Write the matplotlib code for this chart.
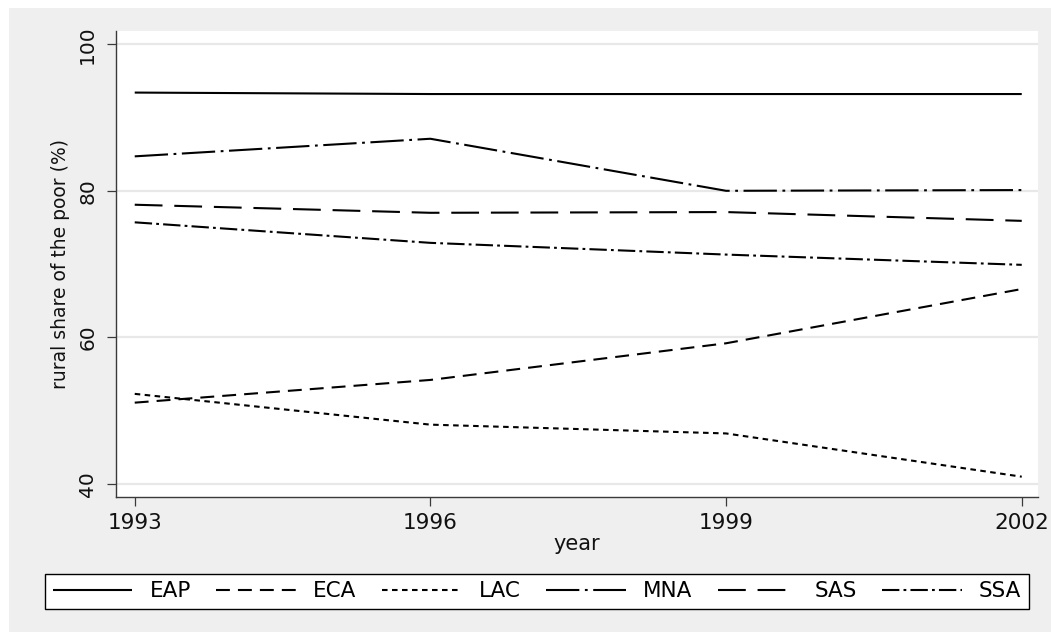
import matplotlib
matplotlib.use("Agg")
import matplotlib.pyplot as plt
from matplotlib.patches import Rectangle

# Rural share of the poor (%) by region
years = [1993, 1996, 1999, 2002]
regions = ["EAP", "ECA", "LAC", "MNA", "SAS", "SSA"]
eap = [93.4, 93.2, 93.2, 93.2]
eca = [51.1, 54.2, 59.2, 66.6]
lac = [52.3, 48.1, 46.9, 41.0]
mna = [84.7, 87.1, 80.0, 80.1]
sas = [78.1, 77.0, 77.1, 75.9]
ssa = [75.7, 72.9, 71.3, 69.9]
y_ticks = [40, 60, 80, 100]

plt.rcParams["font.family"] = "DejaVu Sans"
plt.rcParams["lines.scale_dashes"] = False

W, H = 1051, 632
fig = plt.figure(figsize=(W / 100, H / 100), dpi=100, facecolor="white")

# light gray graph region behind everything
fig.patches.append(Rectangle((9 / W, 0), (W - 9) / W, (H - 8) / H,
                             transform=fig.transFigure, facecolor="#efefef",
                             edgecolor="none", zorder=-10))

ax = fig.add_axes([116 / W, (H - 497) / H, (1038 - 116) / W, (497 - 31) / H])
ax.set_zorder(1)
ax.set_facecolor("white")

styles = {
    "EAP": "-",
    "ECA": (0, (10.0, 5.8)),
    "LAC": (0, (4.0, 3.2)),
    "MNA": (0, (24.0, 4.0, 2.0, 4.0)),
    "SAS": (0, (20.0, 8.5)),
    "SSA": (0, (12.5, 3.0, 2.0, 3.0)),
}
series = [eap, eca, lac, mna, sas, ssa]
handles = []
for name, vals in zip(regions, series):
    ln, = ax.plot(years, vals, color="black", lw=1.5, linestyle=styles[name],
                  label=name, solid_capstyle="butt", dash_capstyle="butt")
    handles.append(ln)

ax.set_xlim(1992.81, 2002.165)
ax.set_ylim(38.23, 101.8)
ax.set_xticks(years)
ax.set_yticks(y_ticks)
ax.grid(axis="y", color="#e8e8e8", lw=1.6)
ax.set_axisbelow(True)

for s in ["top", "right"]:
    ax.spines[s].set_visible(False)
for s in ["left", "bottom"]:
    ax.spines[s].set_color("#3a3a3a")
    ax.spines[s].set_linewidth(1.0)

ax.tick_params(axis="both", direction="out", length=6.5, width=0.9,
               color="#3a3a3a", labelcolor="#111111")
ax.tick_params(axis="y", pad=7, labelsize=14.5)
ax.tick_params(axis="x", pad=5, labelsize=15.5)
for lbl in ax.get_yticklabels():
    lbl.set_rotation(90)
    lbl.set_va("center")

ax.set_xlabel("year", fontsize=15, color="#111111", labelpad=1)
ax.set_ylabel("rural share of the poor (%)", fontsize=13.5, color="#111111",
              labelpad=6)

leg = fig.legend(handles=handles, labels=regions, ncol=6, mode="expand",
                 loc="lower left",
                 bbox_to_anchor=(45 / W, (H - 609) / H, (1029 - 45) / W, 41 / H),
                 fontsize=15.5, handlelength=3.7, handletextpad=0.8,
                 borderpad=0.35, borderaxespad=0.0, fancybox=False,
                 frameon=True, edgecolor="black", facecolor="white",
                 framealpha=1.0)
leg.get_frame().set_linewidth(1.0)

fig.savefig("out.png", dpi=100, facecolor=fig.get_facecolor())
